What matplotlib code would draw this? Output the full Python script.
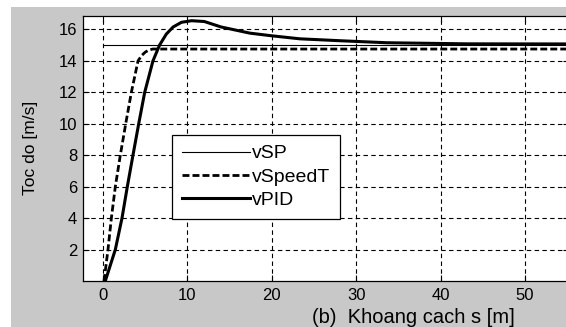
import matplotlib
matplotlib.use("Agg")
from matplotlib import pyplot as plt
from matplotlib.patches import Rectangle

plt.rcParams['font.family'] = ['Liberation Sans', 'DejaVu Sans']

# du lieu doc tu hinh
s_sp = [0, 60]
v_sp = [15.0, 15.0]

s_speedT = [0.12, 0.59, 0.99, 1.46, 2.05, 2.69, 3.36, 4.15, 4.6, 5.0, 5.4, 5.9, 60]
v_speedT = [0.0, 2.0, 4.0, 6.0, 8.0, 10.0, 12.0, 14.0, 14.35, 14.55, 14.68, 14.75, 14.75]

s_pid = [0.27, 1.46, 2.25, 2.88, 3.55, 4.23, 4.94, 5.92, 6.7, 7.5, 8.3, 9.3, 10.5,
         12.0, 14.0, 17.4, 20.0, 23.3, 28.4, 33.6, 43.0, 60]
v_pid = [0.0, 2.0, 4.0, 6.0, 8.0, 10.0, 12.0, 14.0, 15.0, 15.7, 16.15, 16.45, 16.55,
         16.5, 16.15, 15.76, 15.59, 15.4, 15.27, 15.15, 15.08, 15.07]

x_ticks = [0, 10, 20, 30, 40, 50]
y_ticks = [2, 4, 6, 8, 10, 12, 14, 16]

W, H = 566, 327
fig = plt.figure(figsize=(W / 100, H / 100), dpi=100)
fig.patch.set_facecolor('white')
# nen xam kieu MATLAB
fig.patches.append(Rectangle((11 / W, 0), 1, 1 - 7 / H, transform=fig.transFigure,
                             facecolor='#c8c8c8', edgecolor='none', zorder=-1))

ax = fig.add_axes([83 / W, 1 - 281 / H, (569 - 83) / W, (281 - 16) / H])
ax.set_facecolor('white')

ax.plot(s_sp, v_sp, color='black', lw=0.8, label='vSP')
ax.plot(s_speedT, v_speedT, color='black', lw=2, dashes=(2.5, 1.1), label='vSpeedT')
ax.plot(s_pid, v_pid, color='black', lw=2.2, label='vPID')

ax.set_xlim(-2.37, 55.2)
ax.set_ylim(0, 16.85)
ax.set_xticks(x_ticks)
ax.set_yticks(y_ticks)
ax.tick_params(direction='in', length=4, width=0.8, top=True, right=True,
               labelsize=12, colors='black')
ax.tick_params(axis='y', pad=4.3)
ax.tick_params(axis='x', pad=5)

# luoi
ax.grid(True, color='black', linestyle=(0, (4, 3)), linewidth=0.8)
ax.set_axisbelow(True)
for sp in ax.spines.values():
    sp.set_linewidth(0.9)
    sp.set_color('black')

ax.legend(loc='upper left', bbox_to_anchor=(172 / W, 1 - 135 / H),
          bbox_transform=fig.transFigure, fontsize=14, handlelength=3.5,
          handletextpad=0.12, borderpad=0.5, labelspacing=0.29, borderaxespad=0,
          fancybox=False, framealpha=1, edgecolor='black')
ax.get_legend().get_frame().set_linewidth(0.9)

fig.text(30 / W, 1 - 148 / H, 'Toc do [m/s]', rotation=90, fontsize=12.5,
         ha='center', va='center')
fig.text(413 / W, 1 - 323 / H, '(b)  Khoang cach s [m]', fontsize=14.5,
         ha='center', va='baseline')

fig.savefig('out.png', dpi=100)
